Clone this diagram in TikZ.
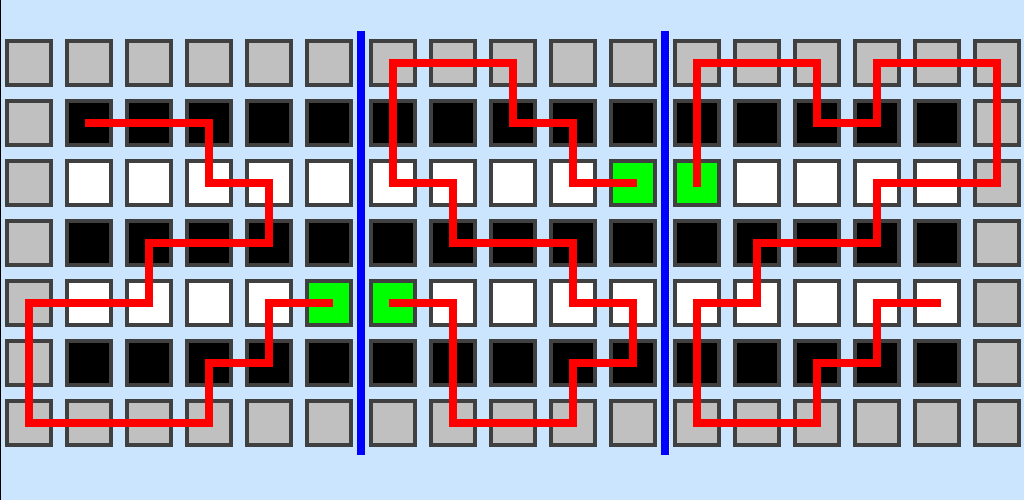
\documentclass[tikz,border=0pt]{standalone}
\usepackage{tikz}
\definecolor{bgblue}{HTML}{CCE5FF}
\definecolor{cellgray}{HTML}{C0C0C0}
\definecolor{cellborder}{HTML}{404040}
\definecolor{cellgreen}{HTML}{00FF00}
\definecolor{pathred}{HTML}{FF0000}
\definecolor{divblue}{HTML}{0000FF}
\tikzset{
  cell/.style={draw=cellborder, line width=4pt, rectangle, minimum width=44pt, minimum height=44pt, inner sep=0pt, outer sep=0pt},
  redpath/.style={draw=pathred, line width=8pt, line cap=rect, line join=miter},
  divider/.style={draw=divblue, line width=8pt},
}
\begin{document}
\begin{tikzpicture}[x=1pt, y=-1pt]
\useasboundingbox (0,0) rectangle (1024,500);
\fill[bgblue] (0,0) rectangle (1024,500);
\fill[black] (0,0) rectangle (1,500);
% cells
\foreach \r in {0,...,6}{
  \foreach \c in {0,...,16}{
    \pgfmathsetmacro\xx{29+60*\c+4*(\c>5)+4*(\c>10)}
    \pgfmathsetmacro\yy{63+60*\r}
    \def\fc{white}
    \ifodd\r \def\fc{black}\fi
    \ifnum\r=2 \ifnum\c=10 \def\fc{cellgreen}\fi\ifnum\c=11 \def\fc{cellgreen}\fi\fi
    \ifnum\r=4 \ifnum\c=5 \def\fc{cellgreen}\fi\ifnum\c=6 \def\fc{cellgreen}\fi\fi
    \ifnum\r=0 \def\fc{cellgray}\fi
    \ifnum\r=6 \def\fc{cellgray}\fi
    \ifnum\c=0 \def\fc{cellgray}\fi
    \ifnum\c=16 \def\fc{cellgray}\fi
    \node[cell, fill=\fc] (c\r-\c) at (\xx,\yy) {};
  }
}
% dividers
\coordinate (d1t) at (361,31); \coordinate (d1b) at (361,455);
\coordinate (d2t) at (665,31); \coordinate (d2b) at (665,455);
\draw[divider] (d1t) -- (d1b);
\draw[divider] (d2t) -- (d2b);
\coordinate (w2t) at (669.8,31); \coordinate (w2b) at (669.8,455);
\draw[white, line width=1pt, dash pattern=on 1pt off 1pt] (w2t) -- (w2b);
% red paths
\draw[redpath] (c1-1.center) -- (c1-3.center) -- (c2-3.center) -- (c2-4.center)
  -- (c3-4.center) -- (c3-2.center) -- (c4-2.center) -- (c4-0.center)
  -- (c6-0.center) -- (c6-3.center) -- (c5-3.center) -- (c5-4.center)
  -- (c4-4.center) -- (c4-5.center);
\draw[redpath] (c4-6.center) -- (c4-7.center) -- (c6-7.center) -- (c6-9.center)
  -- (c5-9.center) -- (c5-10.center) -- (c4-10.center) -- (c4-9.center)
  -- (c3-9.center) -- (c3-7.center) -- (c2-7.center) -- (c2-6.center)
  -- (c0-6.center) -- (c0-8.center) -- (c1-8.center) -- (c1-9.center)
  -- (c2-9.center) -- (c2-10.center);
\draw[redpath] (c2-11.center) -- (c0-11.center) -- (c0-13.center) -- (c1-13.center)
  -- (c1-14.center) -- (c0-14.center) -- (c0-16.center) -- (c2-16.center)
  -- (c2-14.center) -- (c3-14.center) -- (c3-12.center) -- (c4-12.center)
  -- (c4-11.center) -- (c6-11.center) -- (c6-13.center) -- (c5-13.center)
  -- (c5-14.center) -- (c4-14.center) -- (c4-15.center);
\end{tikzpicture}
\end{document}
